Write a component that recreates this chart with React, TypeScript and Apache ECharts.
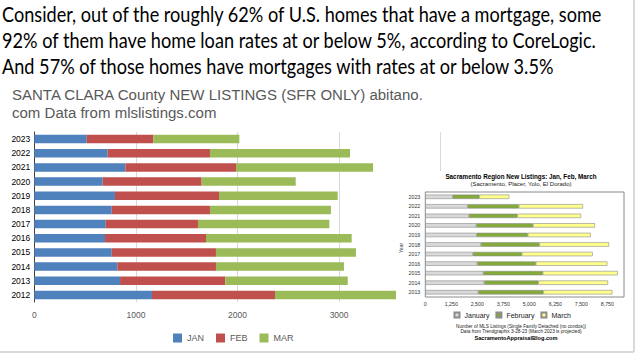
import React, { useEffect, useRef } from 'react';
import * as echarts from 'echarts';

// ---- Santa Clara County new listings (SFR only) ----
const scYears = ['2023', '2022', '2021', '2020', '2019', '2018', '2017', '2016', '2015', '2014', '2013', '2012'];
const scJan = [516, 722, 896, 673, 794, 762, 703, 696, 762, 817, 844, 1158];
const scFeb = [655, 1007, 1089, 974, 1024, 967, 908, 994, 1026, 971, 1036, 1211];
const scMar = [847, 1378, 1349, 926, 1168, 1191, 1293, 1434, 1378, 1260, 1205, 1250];

// ---- Sacramento region new listings ----
const sacYears = ['2023', '2022', '2021', '2020', '2019', '2018', '2017', '2016', '2015', '2014', '2013'];
const sacJan = [1317, 2038, 2101, 2452, 2471, 2678, 2293, 2500, 2788, 2837, 2548];
const sacFeb = [1279, 2452, 2322, 2726, 2452, 2803, 2342, 2808, 2856, 2596, 3125];
const sacMar = [1442, 3092, 3063, 2981, 3029, 3351, 3413, 3442, 3606, 3351, 3317];

const headLines = [
  'Consider, out of the roughly 62% of U.S. homes that have a mortgage, some',
  '92% of them have home loan rates at or below 5%, according to CoreLogic.',
  'And 57% of those homes have mortgages with rates at or below 3.5%',
];
const scTitle = ['SANTA CLARA County NEW LISTINGS (SFR ONLY) abitano.', 'com Data from mlslistings.com'];
const sacTitle = 'Sacramento Region New Listings: Jan, Feb, March';
const sacSubtitle = '(Sacramento, Placer, Yolo, El Dorado)';
const sacNotes = [
  'Number of MLS Listings (Single Family Detached (no condos))',
  'Data from Trendgraphix 3-28-23 (March 2023 is projected)',
];
const sacSite = 'SacramentoAppraisalBlog.com';

function measure(text: string, font: string): number {
  const ctx = document.createElement('canvas').getContext('2d');
  if (!ctx) return 1;
  ctx.font = font;
  return ctx.measureText(text).width || 1;
}

export default function App() {
  const ref = useRef<HTMLDivElement>(null);
  useEffect(() => {
    if (!ref.current) return;
    const chart = echarts.init(ref.current, undefined, { renderer: 'svg' });

    const headFont = '21px Lato';
    const headScale = 601 / measure(headLines[0], headFont);
    const scFont = '15px "Liberation Sans"';
    const scScale = 413 / measure(scTitle[0], scFont);

    const graphics: any[] = [];
    headLines.forEach((t, i) => {
      graphics.push({
        type: 'text', x: 2, y: 14 + i * 26, scaleX: headScale, z: 20,
        style: { text: t, font: headFont, fill: '#000', verticalAlign: 'middle' },
      });
    });
    scTitle.forEach((t, i) => {
      graphics.push({
        type: 'text', x: 12, y: 95 + i * 18, scaleX: scScale, z: 20,
        style: { text: t, font: scFont, fill: '#595959', verticalAlign: 'middle' },
      });
    });
    // photo of the Sacramento chart covering the right part of the first chart
    graphics.push({ type: 'rect', shape: { x: 396, y: 171, width: 237, height: 179 }, z: 5, style: { fill: '#fff' } });
    graphics.push({ type: 'text', x: 521, y: 176, z: 20, style: { text: sacTitle, font: 'bold 6.3px "Liberation Sans"', fill: '#000', align: 'center', verticalAlign: 'middle' } });
    graphics.push({ type: 'text', x: 521, y: 184, z: 20, style: { text: sacSubtitle, font: '6px "Liberation Sans"', fill: '#222', align: 'center', verticalAlign: 'middle' } });
    graphics.push({ type: 'text', x: 401, y: 248, rotation: Math.PI / 2, z: 20, style: { text: 'Year', font: '5px "Liberation Sans"', fill: '#444', align: 'center', verticalAlign: 'middle' } });
    sacNotes.forEach((t, i) => {
      graphics.push({ type: 'text', x: 521, y: 326 + i * 5.2, z: 20, style: { text: t, font: '4.7px "Liberation Sans"', fill: '#222', align: 'center', verticalAlign: 'middle' } });
    });
    graphics.push({ type: 'text', x: 516, y: 338, z: 20, style: { text: sacSite, font: 'bold 5.6px "Liberation Sans"', fill: '#000', align: 'center', verticalAlign: 'middle' } });
    // slide frame
    graphics.push({ type: 'line', shape: { x1: 634, y1: 0, x2: 634, y2: 352 }, z: 20, style: { stroke: '#d9d9d9', lineWidth: 2 } });
    graphics.push({ type: 'line', shape: { x1: 0, y1: 352, x2: 634, y2: 352 }, z: 20, style: { stroke: '#d9d9d9', lineWidth: 2 } });

    const sacItem = (color: string) => ({ color, borderColor: '#8c8c8c', borderWidth: 0.6 });

    chart.setOption({
      animation: false,
      backgroundColor: '#fff',
      textStyle: { fontFamily: '"Liberation Sans", Arial, sans-serif' },
      grid: [
        { left: 34.3, top: 132, width: 406.4, height: 170 },
        { left: 425.3, top: 192, width: 198.7, height: 105, show: true, borderColor: '#8a8a8a', borderWidth: 1, backgroundColor: 'transparent', z: 10 },
      ],
      xAxis: [
        {
          type: 'value', gridIndex: 0, min: 0, max: 4000, interval: 1000,
          axisLine: { show: false }, axisTick: { show: false },
          axisLabel: { fontSize: 8.5, color: '#595959', margin: 8, formatter: (v: number) => String(v) },
          splitLine: { lineStyle: { color: '#d9d9d9', width: 1 } },
        },
        {
          type: 'value', gridIndex: 1, min: 0, max: 9550, interval: 1250, z: 10,
          axisLine: { show: false }, axisTick: { show: false },
          axisLabel: { fontSize: 5.3, color: '#333', margin: 4, showMaxLabel: false, formatter: (v: number) => v.toLocaleString('en-US') },
          splitLine: { show: false },
        },
      ],
      yAxis: [
        {
          type: 'category', gridIndex: 0, data: scYears, inverse: true,
          axisLine: { lineStyle: { color: '#404040', width: 1 } }, axisTick: { show: false },
          axisLabel: { fontSize: 8.5, color: '#000', margin: 4 },
        },
        {
          type: 'category', gridIndex: 1, data: sacYears, inverse: true, z: 10,
          axisLine: { show: false }, axisTick: { show: false },
          axisLabel: { fontSize: 5.3, color: '#333', margin: 5 },
        },
      ],
      legend: [
        {
          data: ['JAN', 'FEB', 'MAR'], left: 168, top: 328.5, itemWidth: 9, itemHeight: 9, itemGap: 12,
          icon: 'rect', textStyle: { fontSize: 9, color: '#595959' }, z: 10,
        },
        {
          data: ['January', 'February', 'March'], left: 453.5, top: 311, itemWidth: 5, itemHeight: 5, itemGap: 6,
          padding: 0, icon: 'rect', textStyle: { fontSize: 7, color: '#222', lineHeight: 8 }, z: 10,
        },
      ],
      graphic: { elements: graphics },
      series: [
        { type: 'bar', name: 'JAN', stack: 'sc', xAxisIndex: 0, yAxisIndex: 0, data: scJan, barWidth: 8.5, itemStyle: { color: '#4f81bd' } },
        { type: 'bar', name: 'FEB', stack: 'sc', xAxisIndex: 0, yAxisIndex: 0, data: scFeb, barWidth: 8.5, itemStyle: { color: '#c0504d' } },
        { type: 'bar', name: 'MAR', stack: 'sc', xAxisIndex: 0, yAxisIndex: 0, data: scMar, barWidth: 8.5, itemStyle: { color: '#9bbb59' } },
        { type: 'bar', name: 'January', stack: 'sac', xAxisIndex: 1, yAxisIndex: 1, data: sacJan, barWidth: 4.4, z: 10, itemStyle: sacItem('#d9d9d9') },
        { type: 'bar', name: 'February', stack: 'sac', xAxisIndex: 1, yAxisIndex: 1, data: sacFeb, barWidth: 4.4, z: 10, itemStyle: sacItem('#84ab39') },
        { type: 'bar', name: 'March', stack: 'sac', xAxisIndex: 1, yAxisIndex: 1, data: sacMar, barWidth: 4.4, z: 10, itemStyle: sacItem('#ffff8c') },
      ],
    });
    return () => chart.dispose();
  }, []);
  return <div ref={ref} style={{ position: 'absolute', left: 0, top: 0, width: 640, height: 353 }} />;
}
